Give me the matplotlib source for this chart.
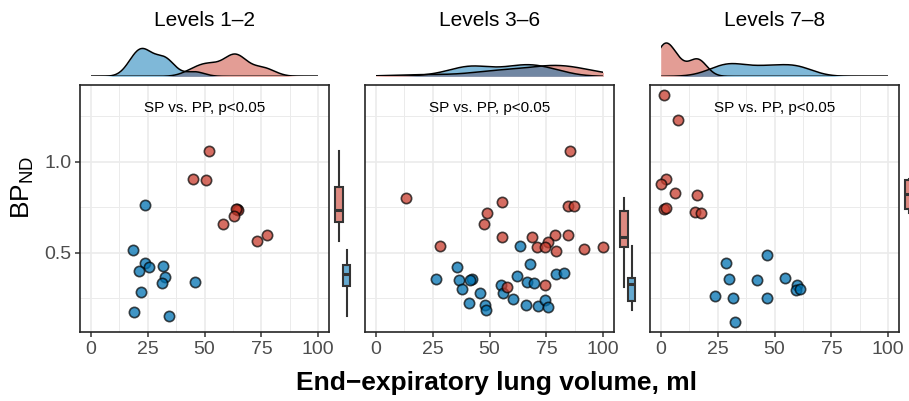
import matplotlib
matplotlib.use('Agg')
import matplotlib.pyplot as plt
import numpy as np

plt.rcParams['font.family'] = ['Liberation Sans', 'DejaVu Sans']
plt.rcParams['mathtext.fontset'] = 'custom'
plt.rcParams['mathtext.rm'] = 'Liberation Sans'

titles = ['Levels 1\u20132', 'Levels 3\u20136', 'Levels 7\u20138']
note = 'SP vs. PP, p<0.05'
x_ticks = [0, 25, 50, 75, 100]
y_ticks = [0.5, 1.0]

# levels 1-2
sp1_x = [52.1, 44.8, 50.7, 64.1, 64.9, 63.8, 63.0, 58.3, 77.6, 73.1]
sp1_y = [1.060, 0.903, 0.899, 0.738, 0.735, 0.740, 0.702, 0.656, 0.596, 0.563]
pp1_x = [24.0, 18.7, 23.9, 25.5, 21.2, 31.8, 32.8, 31.3, 45.7, 22.1, 19.2, 34.5]
pp1_y = [0.760, 0.513, 0.442, 0.423, 0.400, 0.427, 0.368, 0.332, 0.341, 0.282, 0.172, 0.154]

# levels 3-6
sp2_x = [85.4, 13.2, 55.6, 84.6, 87.1, 49.0, 47.5, 55.4, 68.7, 78.8, 84.6, 75.6, 70.7, 74.2,
         79.3, 91.5, 99.9, 28.4, 57.8, 74.3]
sp2_y = [1.059, 0.799, 0.779, 0.757, 0.757, 0.717, 0.658, 0.588, 0.585, 0.596, 0.597, 0.557,
         0.533, 0.533, 0.509, 0.522, 0.531, 0.537, 0.313, 0.324]
pp2_x = [63.4, 67.8, 35.9, 26.5, 36.6, 42.2, 41.4, 38.1, 45.7, 54.9, 55.8, 62.2, 66.6, 69.6,
         79.1, 82.7, 60.5, 40.9, 48.0, 48.3, 65.9, 71.3, 74.3, 75.8]
pp2_y = [0.538, 0.436, 0.420, 0.357, 0.350, 0.355, 0.348, 0.299, 0.280, 0.324, 0.277, 0.374,
         0.337, 0.333, 0.381, 0.390, 0.247, 0.222, 0.213, 0.184, 0.211, 0.206, 0.238, 0.202]

# levels 7-8
sp3_x = [1.4, 7.6, 2.2, 0.0, 6.2, 16.0, 1.4, 2.4, 15.2, 17.6]
sp3_y = [1.366, 1.227, 0.905, 0.877, 0.826, 0.817, 0.738, 0.746, 0.722, 0.720]
pp3_x = [46.6, 28.7, 29.9, 42.4, 54.5, 60.0, 59.4, 61.2, 23.9, 31.6, 46.6, 32.7]
pp3_y = [0.487, 0.443, 0.357, 0.350, 0.363, 0.321, 0.295, 0.301, 0.264, 0.251, 0.251, 0.121]

panels = [(sp1_x, sp1_y, pp1_x, pp1_y),
          (sp2_x, sp2_y, pp2_x, pp2_y),
          (sp3_x, sp3_y, pp3_x, pp3_y)]

RED = (200/255, 60/255, 45/255)
BLUE = (0/255, 114/255, 178/255)
W, H = 909, 401


def kde(values, grid):
    # gaussian density with R's bw.nrd0 bandwidth
    v = np.asarray(values, float)
    n = len(v)
    q75, q25 = np.percentile(v, [75, 25])
    bw = 0.9 * min(v.std(ddof=1), (q75 - q25) / 1.34) * n ** -0.2
    z = (grid[:, None] - v[None, :]) / bw
    return np.exp(-0.5 * z ** 2).sum(axis=1) / (n * bw * np.sqrt(2 * np.pi))


def px_axes(fig, left, top, width, height):
    return fig.add_axes([left / W, 1 - (top + height) / H, width / W, height / H])


fig = plt.figure(figsize=(W / 100, H / 100), dpi=100)

grid = np.linspace(0, 100, 512)
dens = [(kde(p[0], grid), kde(p[2], grid)) for p in panels]
dmax = max(max(d[0].max(), d[1].max()) for d in dens)

ppu = 2.276
for i, (sx, sy, px, py) in enumerate(panels):
    zero = 90.7 + 285 * i

    # scatter panel
    ax = px_axes(fig, zero - 4.5 * ppu, 85, 109 * ppu, 246.7)
    ax.set_xlim(-4.5, 104.5)
    ax.set_ylim(0.066, 1.421)
    ax.set_xticks(x_ticks)
    ax.set_xticks([12.5, 37.5, 62.5, 87.5], minor=True)
    ax.set_yticks(y_ticks)
    ax.set_yticks([0.25, 0.75, 1.25], minor=True)
    ax.grid(True, which='major', color='#ebebeb', lw=1.2)
    ax.grid(True, which='minor', color='#ebebeb', lw=0.7)
    ax.set_axisbelow(True)
    ax.tick_params(which='major', length=3.5, width=1.1, color='#333333',
                   labelsize=14, labelcolor='#4d4d4d', pad=3)
    ax.tick_params(which='minor', length=0)
    if i > 0:
        ax.tick_params(axis='y', left=False, labelleft=False)
    for s in ax.spines.values():
        s.set_color('#262626')
        s.set_linewidth(1.2)

    ax.scatter(px, py, s=55, facecolor=(*BLUE, 0.75), edgecolor=(0, 0, 0, 0.7), lw=1.2, zorder=3)
    ax.scatter(sx, sy, s=55, facecolor=(*RED, 0.75), edgecolor=(0, 0, 0, 0.7), lw=1.2, zorder=3)
    ax.text(0.5, 0.907, note, transform=ax.transAxes, ha='center', va='center',
            fontsize=11, color='black')

    # marginal density on top
    dx = px_axes(fig, zero, 30, 100 * ppu, 46.3)
    d_sp, d_pp = dens[i]
    dx.fill_between(grid, d_sp, color=RED, alpha=0.5, lw=0)
    dx.plot(grid, d_sp, color='black', lw=1.1)
    dx.fill_between(grid, d_pp, color=BLUE, alpha=0.5, lw=0)
    dx.plot(grid, d_pp, color='black', lw=1.1)
    dx.set_xlim(0, 100)
    dx.set_ylim(0, dmax * 46.3 / 33.3)
    dx.axis('off')

    # marginal boxplots on the right
    bx = px_axes(fig, zero + 104.5 * ppu, 85, 24, 246.7)
    bp = bx.boxplot([sy, py], positions=[10.7, 18.2], widths=7.5, patch_artist=True,
                    showfliers=False, showcaps=False,
                    boxprops=dict(edgecolor='#333333', lw=1.5),
                    whiskerprops=dict(color='#333333', lw=1.5),
                    medianprops=dict(color='#333333', lw=2.2))
    for patch, c in zip(bp['boxes'], [RED, BLUE]):
        patch.set_facecolor((*c, 0.6))
    bx.set_xlim(0, 24)
    bx.set_ylim(0.066, 1.421)
    bx.axis('off')

    fig.text((zero + 50 * ppu) / W, 1 - 20 / H, titles[i], ha='center', va='center', fontsize=15)

fig.text(23 / W, 1 - 187 / H, r'$\mathrm{BP}_{\mathrm{ND}}$', rotation=90,
         ha='center', va='center', fontsize=19)
fig.text(497 / W, 1 - 383 / H, 'End\u2212expiratory lung volume, ml', ha='center',
         va='center', fontsize=19, fontweight='bold')

fig.savefig('out.png', dpi=100)
